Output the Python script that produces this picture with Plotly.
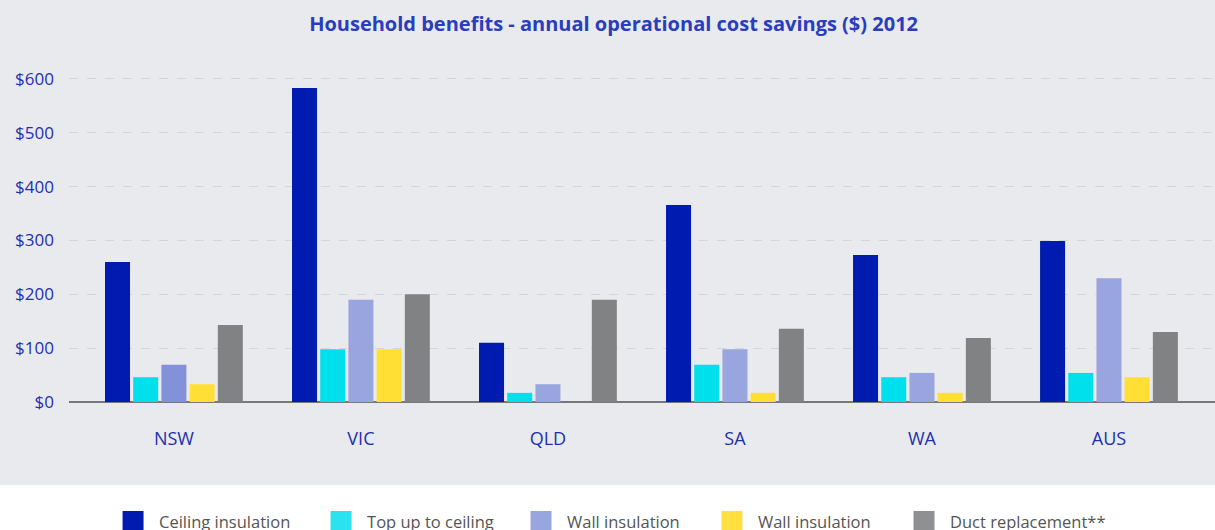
import plotly.graph_objects as go

regions = ["NSW", "VIC", "QLD", "SA", "WA", "AUS"]
series_names = ["Ceiling insulation", "Top up to ceiling", "Wall insulation", "Wall insulation", "Duct replacement**"]
ceiling = [260, 583, 110, 366, 273, 299]
top_up = [46, 98, 17, 69, 46, 54]
wall = [69, 190, 33, 98, 54, 230]
wall2 = [33, 98, 0, 17, 17, 46]
duct = [143, 200, 190, 136, 119, 130]
tick_vals = [0, 100, 200, 300, 400, 500, 600]
tick_text = ["$0", "$100", "$200", "$300", "$400", "$500", "$600"]
title = "Household benefits - annual operational cost savings ($) 2012"

bar_colors = ["#001cb0", "#00e0ec", ["#8391d8", "#99a5de", "#99a5de", "#99a5de", "#99a5de", "#99a5de"], "#ffdf33", "#818284"]
legend_colors = ["#001cb0", "#2ae3ee", "#99a5de", "#ffe040", "#8f9092"]
legend_x = [0.0332, 0.2147, 0.3892, 0.5558, 0.7234]
values = [ceiling, top_up, wall, wall2, duct]

fig = go.Figure()
xs = list(range(len(regions)))
for name, vals, col in zip(series_names, values, bar_colors):
    fig.add_trace(go.Bar(x=xs, y=vals, name=name, showlegend=False,
                         marker=dict(color=col, line=dict(width=0))))
legend_ids = ["legend", "legend2", "legend3", "legend4", "legend5"]
for name, col, lid in zip(series_names, legend_colors, legend_ids):
    fig.add_trace(go.Scatter(x=[None], y=[None], mode="markers", name=name, legend=lid,
                             marker=dict(symbol="square", size=22, color=col,
                                         line=dict(width=6, color=col))))

bg = "#e9eaed"
fig.update_layout(
    width=1215, height=530,
    margin=dict(l=69, r=0, t=52, b=128, autoexpand=False),
    paper_bgcolor=bg, plot_bgcolor=bg,
    barmode="group", bargap=0.246, bargroupgap=0.113,
    font=dict(family="Open Sans", color="#1f2fb0"),
    title=dict(text="<b>" + title + "</b>", x=0.505, xanchor="center", y=0.955, yanchor="middle",
               font=dict(size=20, color="#2a3dbf", family="Open Sans")),
    showlegend=True,
    shapes=[dict(type="rect", xref="paper", yref="paper", x0=-0.1, x1=1.1, y0=-0.237, y1=-0.6,
                 fillcolor="white", line=dict(width=0), layer="below")],
)
for lid, lx in zip(legend_ids, legend_x):
    fig.update_layout({lid: dict(orientation="h", x=lx, xanchor="left", y=-0.292, yanchor="top",
                                 font=dict(size=16.5, color="#555555", family="Open Sans"),
                                 bgcolor="rgba(0,0,0,0)", itemsizing="trace", itemwidth=42)})
fig.update_xaxes(range=[-0.561, 5.567], tickvals=xs, ticktext=regions, showgrid=False,
                 showline=False, zeroline=False, ticks="", automargin=False,
                 ticklabelstandoff=24, tickfont=dict(size=18, color="#1f2fb0"))
fig.update_yaxes(range=[0, 650], tickvals=tick_vals, ticktext=tick_text, showgrid=True,
                 gridcolor="#d3d5d8", griddash="dash", gridwidth=1.2, automargin=False,
                 zeroline=True, zerolinecolor="#76787c", zerolinewidth=1.5,
                 tickfont=dict(size=17, color="#1f2fb0"), ticks="", ticklabelstandoff=14)
fig.write_html("out.html", config={"displayModeBar": False},
               post_script="document.body.style.margin='0';")
